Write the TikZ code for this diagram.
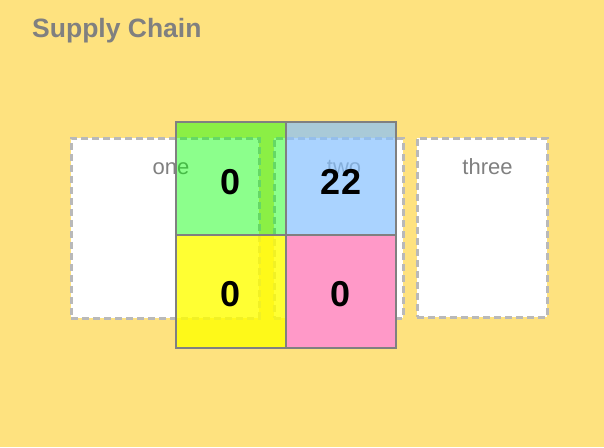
\documentclass[tikz,border=0pt]{standalone}
\usepackage{fontspec}
\setmainfont{Liberation Sans}
\definecolor{bgyellow}{RGB}{254,226,127}
\definecolor{paneline}{RGB}{185,185,185}
\definecolor{txtgray}{RGB}{128,128,128}
\definecolor{cellgreen}{RGB}{0,255,0}
\definecolor{cellblue}{RGB}{134,193,255}
\definecolor{cellyellow}{RGB}{255,255,0}
\definecolor{cellpink}{RGB}{255,153,200}
\tikzset{
  pane/.style={draw=paneline, line width=3pt, dash pattern=on 7pt off 4pt, fill=white,
    inner sep=0pt, outer sep=0pt, minimum height=180pt},
  cell/.style={inner sep=0pt, outer sep=0pt, minimum width=110pt, minimum height=113pt},
  gridline/.style={draw=txtgray, line width=1.6pt},
  num/.style={font=\fontsize{36}{40}\selectfont\bfseries, anchor=base, inner sep=0pt},
  panelabel/.style={font=\fontsize{22}{26}\selectfont, text=txtgray, anchor=base, inner sep=0pt},
}
\begin{document}
\begin{tikzpicture}[x=1pt,y=-1pt]
\fill[bgyellow] (0,0) rectangle (604,447);
\useasboundingbox (0,0) rectangle (604,447);
\node[font=\fontsize{26.5}{30}\selectfont\bfseries, text=txtgray, anchor=base west, inner sep=0pt] (title) at (32,37) {Supply Chain};
% panes
\node[pane, minimum width=188pt] (p1) at (165,228) {};
\node[pane, minimum width=129pt] (p2) at (338.5,228) {};
\node[pane, minimum width=130pt, minimum height=179pt] (p3) at (482,227.5) {};
\node[panelabel] (l1) at (171,174) {one};
\node[panelabel] (l2) at (344,174) {two};
\node[panelabel] (l3) at (487.5,174) {three};
% cells
\node[cell, fill=cellgreen, fill opacity=0.45] (c1) at (231,178.5) {};
\node[cell, fill=cellblue, fill opacity=0.7] (c2) at (341,178.5) {};
\node[cell, fill=cellyellow, fill opacity=0.8] (c3) at (231,291.5) {};
\node[cell, fill=cellpink] (c4) at (341,291.5) {};
\draw[gridline] (c1.north west) rectangle (c4.south east);
\draw[gridline] (c1.north east) -- (c3.south east);
\draw[gridline] (c1.south west) -- (c2.south east);
\node[num] (n1) at (231,194) {0};
\node[num] (n2) at (341,194) {22};
\node[num] (n3) at (231,306.5) {0};
\node[num] (n4) at (341,306.5) {0};
\end{tikzpicture}
\end{document}
